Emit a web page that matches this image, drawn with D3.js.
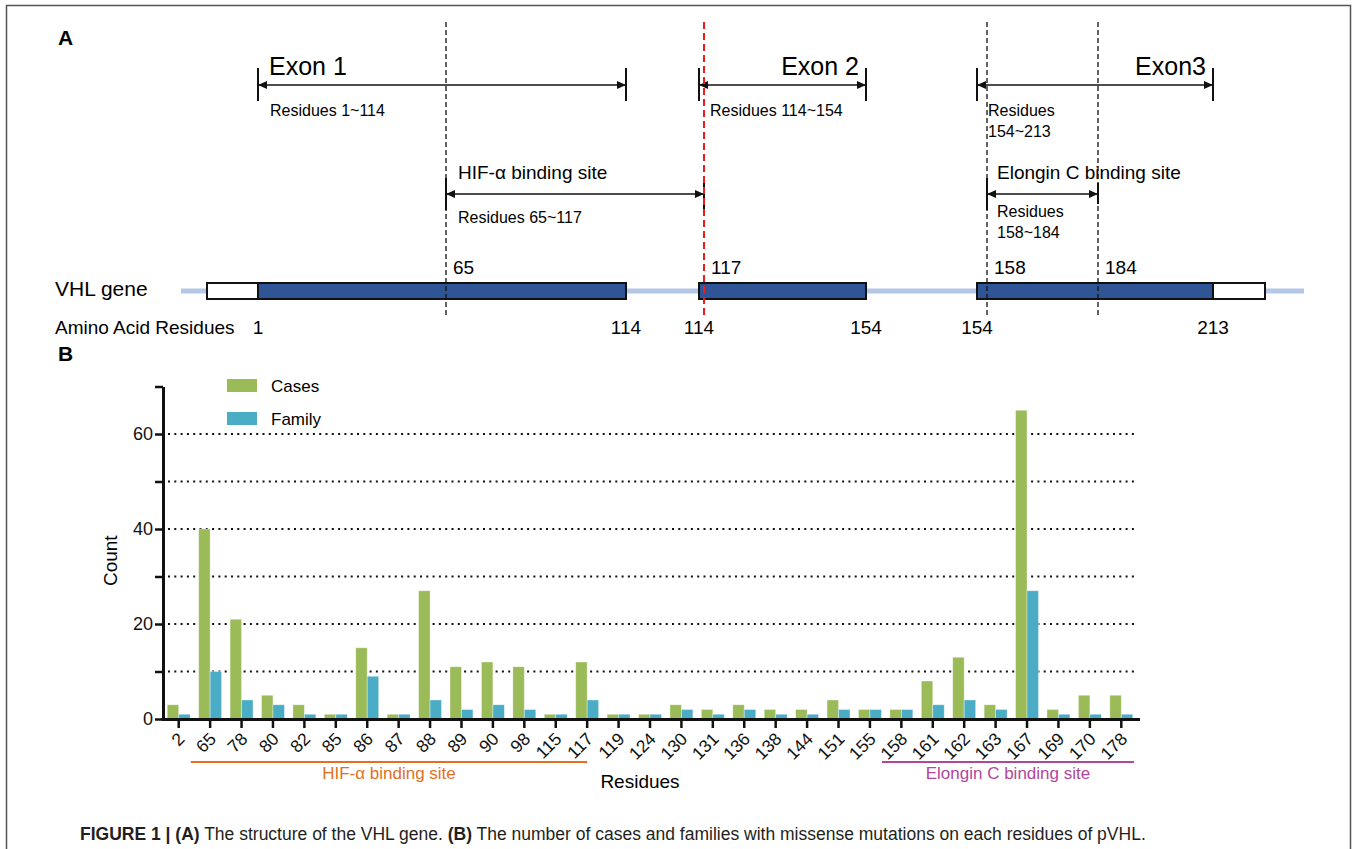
<!DOCTYPE html>
<html>
<head>
<meta charset="utf-8">
<script src="https://cdn.jsdelivr.net/npm/d3@7"></script>
<style>
  html, body { margin: 0; padding: 0; background: #fff; }
  svg { display: block; font-family: "Liberation Sans", Arial, Helvetica, sans-serif; }
</style>
</head>
<body>
<svg id="fig" width="1357" height="849"></svg>
<script>
// ---------- Panel B data: missense mutations per pVHL residue ----------
const residues = ["2","65","78","80","82","85","86","87","88","89","90","98","115","117","119",
                  "124","130","131","136","138","144","151","155","158","161","162","163","167",
                  "169","170","178"];
const cases  = [3,40,21,5,3,1,15,1,27,11,12,11,1,12,1,1,3,2,3,2,2,4,2,2,8,13,3,65,2,5,5];
const family = [1,10,4,3,1,1,9,1,4,2,3,2,1,4,1,1,2,1,2,1,1,2,2,2,3,4,2,27,1,1,1];
const seriesNames = ["Cases", "Family"];
const yTickValues = [0,10,20,30,40,50,60,70];
const yTickLabels = ["0","","20","","40","","60",""];
const gridValues  = [10,20,30,40,50,60];
const bindingRegions = [
  { name: "HIF-α binding site",     first: "65",  last: "117" },
  { name: "Elongin C binding site", first: "158", last: "178" }
];

// ---------- Panel A data: VHL gene structure ----------
const exonNames   = ["Exon 1", "Exon 2", "Exon3"];
const exonStarts  = [1, 114, 154];
const exonEnds    = [114, 154, 213];
const exonRanges  = [["Residues 1~114"], ["Residues 114~154"], ["Residues", "154~213"]];
const siteNames   = ["HIF-α binding site", "Elongin C binding site"];
const siteStarts  = [65, 158];
const siteEnds    = [117, 184];
const siteRanges  = [["Residues 65~117"], ["Residues", "158~184"]];
const caption = [
  { t: "FIGURE 1 | (A)", b: true },
  { t: " The structure of the VHL gene. ", b: false },
  { t: "(B)", b: true },
  { t: " The number of cases and families with missense mutations on each residues of pVHL.", b: false }
];

// ---------- Style / layout ----------
const C = {
  green: "#9bbb59", blue: "#4bacc6", navy: "#2f5597", geneLine: "#b4c7e7",
  orange: "#e2701f", purple: "#b0479c", red: "#ee1c1c", ink: "#111"
};

// Schematic gene axis: each exon drawn on its own piecewise scale
const exonLayout = [
  { knots: [1, 65, 114],        px: [258, 446, 626] },
  { knots: [114, 117, 154],     px: [699, 704, 866] },
  { knots: [154, 158, 184, 213], px: [977, 987, 1098, 1213] }
];
const exonScales = exonLayout.map(l => d3.scaleLinear().domain(l.knots).range(l.px));
function geneX(res, exonIdx) { return exonScales[exonIdx](res); }
function exonOf(res, preferLast) {
  let idx = -1;
  exonStarts.forEach((s, i) => { if (res >= s && res <= exonEnds[i]) { if (idx < 0 || preferLast) idx = i; } });
  return idx;
}

const svg = d3.select("#fig");

// Figure frame
svg.append("path")
  .attr("d", "M6.5,860 V5.5 H1350.5 V860")
  .attr("fill", "none").attr("stroke", "#555").attr("stroke-width", 1.5);

// ================= Panel A =================
const A = svg.append("g");
A.append("text").attr("x", 58).attr("y", 45).attr("font-size", 21).attr("font-weight", "bold").text("A");

const yArrowExon = 85, yArrowSite = 194, yBox = 291, boxH = 16;
const utrLeft = 207, utrRight = 1265;

function arrowHead(g, x, y, dir) {
  const L = 9, W = 4;
  g.append("path")
    .attr("d", `M${x},${y} L${x - dir * L},${y - W} L${x - dir * L},${y + W} Z`)
    .attr("fill", C.ink);
}
function dimArrow(g, x0, x1, y, t0, t1) {
  g.append("line").attr("x1", x0).attr("x2", x1).attr("y1", y).attr("y2", y)
    .attr("stroke", C.ink).attr("stroke-width", 1.6);
  arrowHead(g, x0, y, -1);
  arrowHead(g, x1, y, 1);
  g.append("line").attr("x1", x0).attr("x2", x0).attr("y1", y - t0[0]).attr("y2", y + t0[1])
    .attr("stroke", C.ink).attr("stroke-width", 2);
  g.append("line").attr("x1", x1).attr("x2", x1).attr("y1", y - t1[0]).attr("y2", y + t1[1])
    .attr("stroke", C.ink).attr("stroke-width", 2);
}

// gene backbone
A.append("line").attr("x1", 181).attr("x2", 1304).attr("y1", yBox).attr("y2", yBox)
  .attr("stroke", C.geneLine).attr("stroke-width", 5);

// UTR boxes
A.append("rect").attr("x", utrLeft).attr("y", yBox - boxH / 2)
  .attr("width", geneX(exonStarts[0], 0) - utrLeft).attr("height", boxH)
  .attr("fill", "#fff").attr("stroke", C.ink).attr("stroke-width", 2);
A.append("rect").attr("x", geneX(exonEnds[2], 2)).attr("y", yBox - boxH / 2)
  .attr("width", utrRight - geneX(exonEnds[2], 2)).attr("height", boxH)
  .attr("fill", "#fff").attr("stroke", C.ink).attr("stroke-width", 2);

// exon boxes, brackets and labels
exonNames.forEach((name, i) => {
  const x0 = geneX(exonStarts[i], i), x1 = geneX(exonEnds[i], i);
  A.append("rect").attr("x", x0).attr("y", yBox - boxH / 2).attr("width", x1 - x0).attr("height", boxH)
    .attr("fill", C.navy).attr("stroke", C.ink).attr("stroke-width", 2);
  dimArrow(A, x0, x1, yArrowExon, [17, 16], [17, 16]);
  const first = i === 0;
  A.append("text").attr("x", first ? x0 + 11 : x1 - 7).attr("y", 75)
    .attr("text-anchor", first ? "start" : "end").attr("font-size", 25).text(name);
  exonRanges[i].forEach((line, k) => {
    A.append("text").attr("x", x0 + (first ? 12 : 11)).attr("y", 116 + k * 21)
      .attr("font-size", 16).text(line);
  });
  // residue numbers under the boxes
  A.append("text").attr("x", x1).attr("y", 334).attr("text-anchor", "middle")
    .attr("font-size", 19).text(exonEnds[i]);
  if (i > 0) {
    A.append("text").attr("x", x0).attr("y", 334).attr("text-anchor", "middle")
      .attr("font-size", 19).text(exonStarts[i]);
  }
});
A.append("text").attr("x", 55).attr("y", 296).attr("font-size", 21).text("VHL gene");
A.append("text").attr("x", 55).attr("y", 334).attr("font-size", 19).text("Amino Acid Residues");
A.append("text").attr("x", geneX(exonStarts[0], 0)).attr("y", 334).attr("text-anchor", "middle")
  .attr("font-size", 19).text(exonStarts[0]);

// binding sites: arrows, labels, boundary guides
siteNames.forEach((name, i) => {
  const eS = exonOf(siteStarts[i], false), eE = exonOf(siteEnds[i], true);
  const x0 = geneX(siteStarts[i], eS), x1 = geneX(siteEnds[i], eE);
  dimArrow(A, x0, x1, yArrowSite, [16, 16], i === 0 ? [16, 16] : [11, 10]);
  A.append("text").attr("x", x0 + (i === 0 ? 12 : 10)).attr("y", 179).attr("font-size", 19).text(name);
  siteRanges[i].forEach((line, k) => {
    A.append("text").attr("x", x0 + (i === 0 ? 12 : 10)).attr("y", (i === 0 ? 223 : 217) + k * 21)
      .attr("font-size", 16).text(line);
  });
  [[siteStarts[i], x0], [siteEnds[i], x1]].forEach(([res, x]) => {
    const isRed = res === 117;
    A.append("line").attr("x1", x).attr("x2", x).attr("y1", 22).attr("y2", 317)
      .attr("stroke", isRed ? C.red : C.ink)
      .attr("stroke-width", isRed ? 2 : 1.3)
      .attr("stroke-dasharray", isRed ? "7,4" : "5,3");
    A.append("text").attr("x", x + 7).attr("y", 274).attr("font-size", 19).text(res);
  });
});

// ================= Panel B =================
svg.append("text").attr("x", 58).attr("y", 361).attr("font-size", 21).attr("font-weight", "bold").text("B");

const B = svg.append("g");
const plot = { left: 163, right: 1137, top: 386.5, bottom: 719 };

const x = d3.scaleBand().domain(residues).range([plot.left, plot.right])
  .paddingInner(0.27).paddingOuter(0.135);
const xSub = d3.scaleBand().domain(seriesNames).range([0, x.bandwidth()]);
const y = d3.scaleLinear().domain([0, 70]).range([plot.bottom, plot.top]);
const colour = d3.scaleOrdinal().domain(seriesNames).range([C.green, C.blue]);

// dotted grid
B.append("g").selectAll("line").data(gridValues).join("line")
  .attr("x1", plot.left + 5).attr("x2", plot.right)
  .attr("y1", d => y(d)).attr("y2", d => y(d))
  .attr("stroke", "#111").attr("stroke-width", 2.2)
  .attr("stroke-dasharray", "2,4.3");

// bars
const rows = residues.map((r, i) => ({ r, vals: [cases[i], family[i]] }));
const grp = B.append("g").selectAll("g").data(rows).join("g")
  .attr("transform", d => `translate(${x(d.r)},0)`);
grp.selectAll("rect").data(d => d.vals.map((v, k) => ({ k: seriesNames[k], v })))
  .join("rect")
  .attr("x", d => xSub(d.k))
  .attr("width", xSub.bandwidth())
  .attr("y", d => y(d.v))
  .attr("height", d => y(0) - y(d.v))
  .attr("fill", d => colour(d.k))
  .attr("stroke", "rgba(255,255,255,0.45)").attr("stroke-width", 0.8);

// y axis
const yAxis = B.append("g").attr("transform", `translate(${plot.left},0)`)
  .call(d3.axisLeft(y).tickValues(yTickValues).tickSize(8).tickSizeOuter(0)
    .tickFormat((d, i) => yTickLabels[i]));
yAxis.select(".domain").attr("stroke", C.ink).attr("stroke-width", 3);
yAxis.selectAll(".tick line").attr("stroke", C.ink).attr("stroke-width", 2.5);
yAxis.selectAll(".tick text").attr("font-size", 18).attr("fill", "#111")
  .attr("font-family", "'Liberation Sans', Arial, sans-serif").attr("x", -10);

// x axis
const xAxis = B.append("g").attr("transform", `translate(0,${plot.bottom})`)
  .call(d3.axisBottom(x).tickSize(9).tickSizeOuter(0));
xAxis.select(".domain").attr("stroke", C.ink).attr("stroke-width", 3)
  .attr("d", `M${plot.left - 1.5},0.5H${plot.right + 3}`);
xAxis.selectAll(".tick line").attr("stroke", C.ink).attr("stroke-width", 2.5);
xAxis.selectAll(".tick text")
  .attr("font-size", 17.5).attr("fill", "#111")
  .attr("font-family", "'Liberation Sans', Arial, sans-serif")
  .attr("text-anchor", "end").attr("dy", null).attr("y", 0)
  .attr("transform", "translate(7,21) rotate(-45)");

// axis titles
B.append("text").attr("transform", `translate(117,${(plot.top + plot.bottom) / 2 + 8}) rotate(-90)`)
  .attr("text-anchor", "middle").attr("font-size", 19).text("Count");
B.append("text").attr("x", (plot.left + plot.right) / 2 - 10).attr("y", 788)
  .attr("text-anchor", "middle").attr("font-size", 19).text("Residues");

// binding-site brackets under the axis
const regionColours = [C.orange, C.purple];
bindingRegions.forEach((reg, i) => {
  const x0 = x(reg.first) - x.step() * 0.25;
  const x1 = x(reg.last) + x.bandwidth() * (i === 0 ? 0.5 : 1.05);
  B.append("line").attr("x1", x0).attr("x2", x1).attr("y1", 762).attr("y2", 762)
    .attr("stroke", regionColours[i]).attr("stroke-width", 2.2);
  B.append("text").attr("x", (x0 + x1) / 2).attr("y", 779).attr("text-anchor", "middle")
    .attr("font-size", 17).attr("fill", regionColours[i]).text(reg.name);
});

// legend
const legend = B.append("g").selectAll("g").data(seriesNames).join("g")
  .attr("transform", (d, i) => `translate(227,${379 + i * 33})`);
legend.append("rect").attr("width", 30).attr("height", 13).attr("fill", d => colour(d));
legend.append("text").attr("x", 44).attr("y", 13).attr("font-size", 17).text(d => d);

// caption
const cap = svg.append("text").attr("x", 80).attr("y", 840).attr("font-size", 17.5).attr("fill", "#231f20");
caption.forEach(p => cap.append("tspan").attr("font-weight", p.b ? "bold" : "normal").text(p.t));
</script>
</body>
</html>
